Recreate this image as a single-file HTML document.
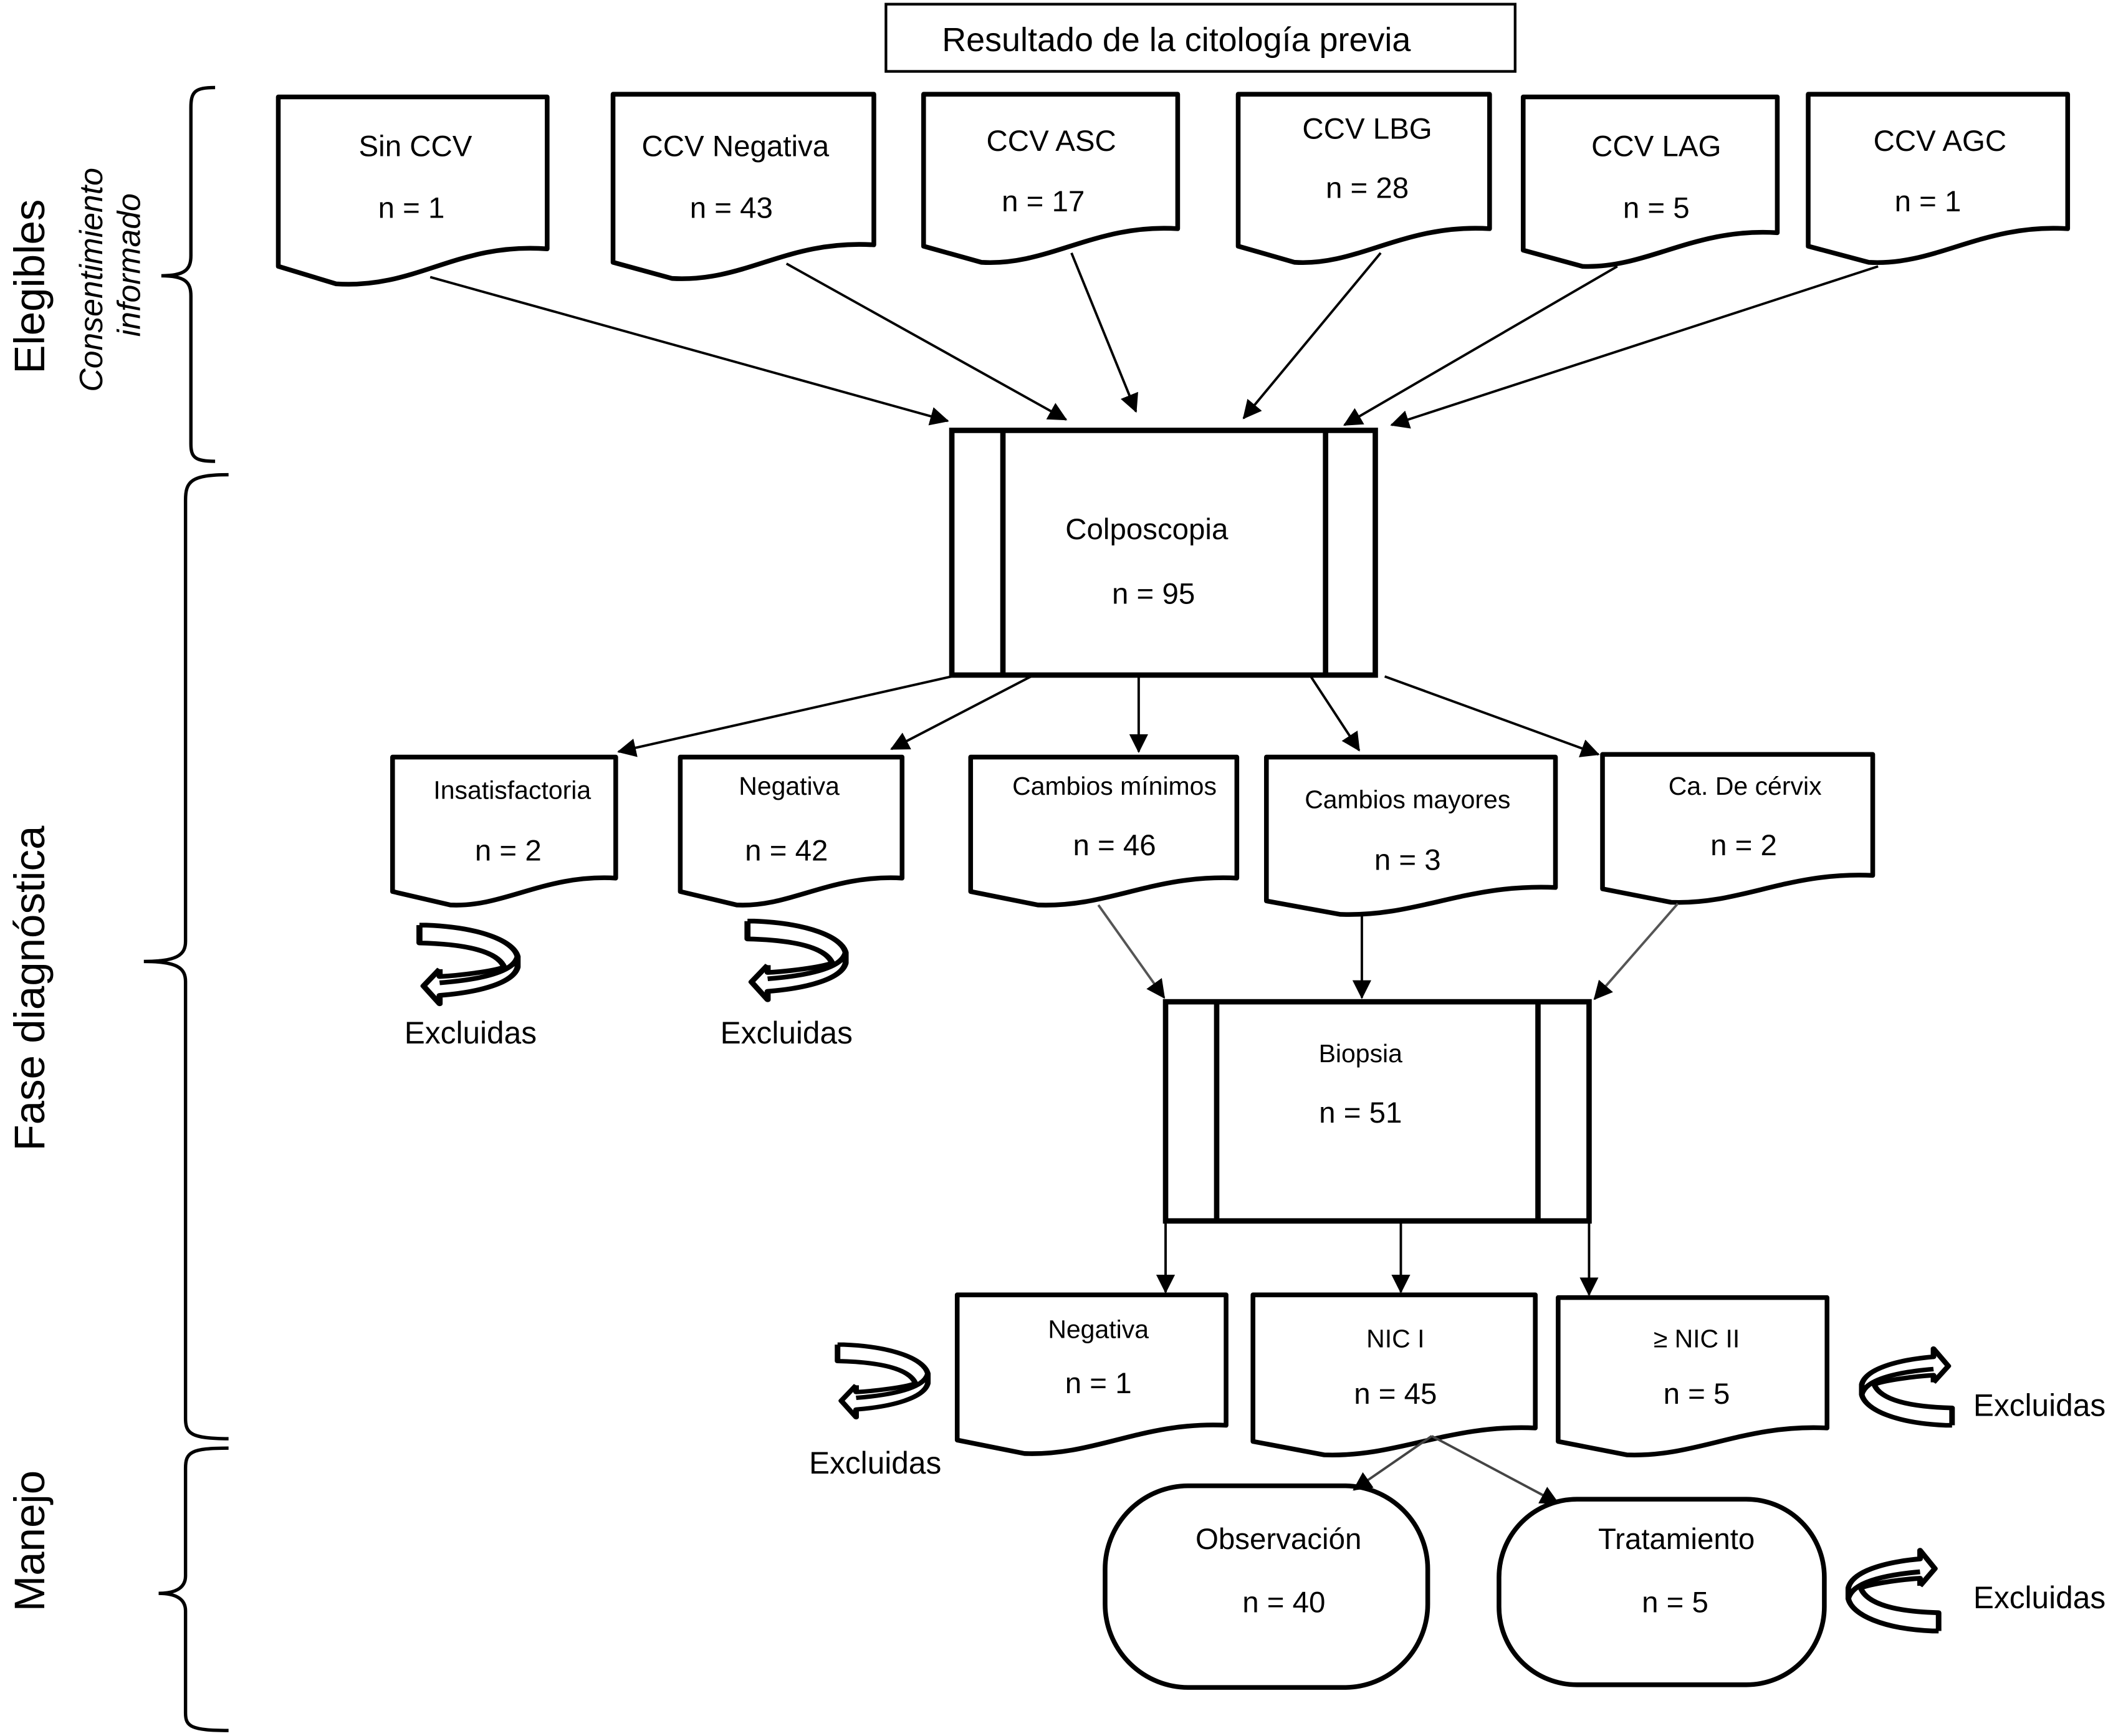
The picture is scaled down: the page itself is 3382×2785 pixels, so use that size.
<!DOCTYPE html>
<html><head><meta charset="utf-8"><style>
html,body{margin:0;padding:0;background:#fff}
svg{display:block}
text{font-family:"Liberation Sans",Arial,sans-serif;fill:#000}
</style></head><body>
<svg width="3382" height="2785" viewBox="0 0 1568 1291" xmlns="http://www.w3.org/2000/svg">
<defs>
<marker id="ahs" markerWidth="14" markerHeight="14" refX="13" refY="7" orient="auto" markerUnits="userSpaceOnUse" viewBox="0 0 14 14">
<path d="M0,0 L14,7 L0,14 Z" fill="#000"/></marker>
<g id="cl" fill="none" stroke="#000" stroke-width="4.5" stroke-linejoin="round">
<path d="M0,0 H5 C45,2 70,15 73,30 C70,45 45,52 15,55 M0,0 V17 C35,18 58,25 63,40"/>
<path d="M15,42 L3,58 L15,75 V67 C45,64 70,55 73,40 V30"/>
<path d="M15,42 V49 C30,48 55,44 63,40"/>
</g>
</defs>
<rect x="659" y="3" width="468" height="50" fill="none" stroke="#000" stroke-width="2"/>
<text x="875" y="38" font-size="25" text-anchor="middle">Resultado de la citología previa</text>

<g fill="#fff" stroke="#000" stroke-width="3.5" stroke-linejoin="round">
<path d="M207,72 H407 V185 C340,180 310,215 250,211 L207,198 Z"/>
<path d="M456,70 H650 V182 C585,178 555,210 500,207 L456,195 Z"/>
<path d="M687,70 H876 V170 C815,166 780,198 730,195 L687,183 Z"/>
<path d="M921,70 H1108 V170 C1045,166 1010,198 963,195 L921,183 Z"/>
<path d="M1133,72 H1322 V173 C1260,169 1225,200 1177,198 L1133,186 Z"/>
<path d="M1345,70 H1538 V170 C1475,166 1440,198 1390,195 L1345,183 Z"/>

<path d="M292,563 H458 V653 C405,650 375,675 335,673 L292,663 Z"/>
<path d="M506,563 H671 V653 C618,650 588,675 548,673 L506,663 Z"/>
<path d="M722,563 H920 V653 C858,650 825,675 772,673 L722,663 Z"/>
<path d="M942,563 H1157 V660 C1090,657 1055,682 997,680 L942,670 Z"/>
<path d="M1192,561 H1393 V651 C1330,648 1295,673 1243,671 L1192,661 Z"/>

<path d="M712,963 H912 V1060 C850,1057 815,1083 762,1081 L712,1071 Z"/>
<path d="M932,963 H1142 V1062 C1078,1059 1040,1084 985,1082 L932,1072 Z"/>
<path d="M1159,965 H1359 V1062 C1297,1059 1262,1084 1210,1082 L1159,1072 Z"/>
</g>

<g fill="none" stroke="#000" stroke-width="4">
<rect x="708" y="320" width="315" height="182"/>
<line x1="746" y1="320" x2="746" y2="502"/>
<line x1="986" y1="320" x2="986" y2="502"/>
<rect x="867" y="745" width="315" height="163"/>
<line x1="905" y1="745" x2="905" y2="908"/>
<line x1="1144" y1="745" x2="1144" y2="908"/>
<rect x="822" y="1105" width="240" height="150" rx="62" ry="62" stroke-width="3.5"/>
<rect x="1115" y="1115" width="242" height="138" rx="58" ry="58" stroke-width="3.5"/>
</g>

<g fill="none" stroke="#000" stroke-width="2.5">
<path d="M160,65 C145,65 142,68 142,80 V190 C142,200 138,205 120,205 C138,205 142,210 142,220 V330 C142,340 145,343 160,343"/>
<path d="M170,353 C142,353 138,358 138,372 V700 C138,710 132,715 107,715 C132,715 138,720 138,730 V1055 C138,1066 142,1070 170,1070"/>
<path d="M170,1077 C142,1077 138,1080 138,1092 V1172 C138,1180 132,1185 118,1185 C132,1185 138,1190 138,1198 V1274 C138,1284 142,1287 170,1287"/>
</g>

<g stroke="#000" stroke-width="1.8" fill="none" marker-end="url(#ahs)">
<line x1="320" y1="206" x2="705" y2="313"/>
<line x1="585" y1="196" x2="793" y2="312"/>
<line x1="797" y1="188" x2="845" y2="306"/>
<line x1="1027" y1="188" x2="925" y2="311"/>
<line x1="1203" y1="198" x2="1000" y2="316"/>
<line x1="1397" y1="198" x2="1035" y2="316"/>
<line x1="708" y1="503" x2="460" y2="559"/>
<line x1="767" y1="503" x2="663" y2="557"/>
<line x1="847" y1="503" x2="847" y2="559"/>
<line x1="975" y1="503" x2="1011" y2="558"/>
<line x1="1030" y1="503" x2="1189" y2="561"/>
<line x1="817" y1="673" x2="866" y2="742" stroke="#555"/>
<line x1="1013" y1="681" x2="1013" y2="742"/>
<line x1="1248" y1="672" x2="1186" y2="743" stroke="#555"/>
<line x1="867" y1="908" x2="867" y2="961"/>
<line x1="1042" y1="908" x2="1042" y2="961"/>
<line x1="1182" y1="908" x2="1182" y2="963"/>
<line x1="1065" y1="1068" x2="1007" y2="1108" stroke="#444"/>
<line x1="1065" y1="1068" x2="1159" y2="1118" stroke="#444"/>
</g>

<use href="#cl" transform="translate(312,688) scale(1,0.78)"/>
<use href="#cl" transform="translate(556,685) scale(1,0.78)"/>
<use href="#cl" transform="translate(623,1000) scale(0.92,0.72)"/>
<use href="#cl" transform="translate(1452,1060) scale(-0.92,-0.76)"/>
<use href="#cl" transform="translate(1442,1213) scale(-0.92,-0.8)"/>

<g font-size="22" text-anchor="middle">
<text x="309" y="116">Sin CCV</text><text x="306" y="162">n = 1</text>
<text x="547" y="116">CCV Negativa</text><text x="544" y="162">n = 43</text>
<text x="782" y="112">CCV ASC</text><text x="776" y="157">n = 17</text>
<text x="1017" y="103">CCV LBG</text><text x="1017" y="147">n = 28</text>
<text x="1232" y="116">CCV LAG</text><text x="1232" y="162">n = 5</text>
<text x="1443" y="112">CCV AGC</text><text x="1434" y="157">n = 1</text>
<text x="853" y="401">Colposcopia</text><text x="858" y="449">n = 95</text>
<text x="1012" y="835">n = 51</text>
<text x="378" y="640">n = 2</text>
<text x="585" y="640">n = 42</text>
<text x="829" y="636">n = 46</text>
<text x="1047" y="647">n = 3</text>
<text x="1297" y="636">n = 2</text>
<text x="817" y="1036">n = 1</text>
<text x="1038" y="1044">n = 45</text>
<text x="1262" y="1044">n = 5</text>
<text x="951" y="1152">Observación</text><text x="955" y="1199">n = 40</text>
<text x="1247" y="1152">Tratamiento</text><text x="1246" y="1199">n = 5</text>
</g>
<g font-size="23" text-anchor="middle">
<text x="350" y="776">Excluidas</text>
<text x="585" y="776">Excluidas</text>
<text x="651" y="1096">Excluidas</text>
<text x="1517" y="1053">Excluidas</text>
<text x="1517" y="1196">Excluidas</text>
</g>
<g font-size="19" text-anchor="middle">
<text x="381" y="594">Insatisfactoria</text>
<text x="587" y="591">Negativa</text>
<text x="829" y="591">Cambios mínimos</text>
<text x="1047" y="601">Cambios mayores</text>
<text x="1298" y="591">Ca. De cérvix</text>
<text x="1012" y="790">Biopsia</text>
<text x="817" y="995">Negativa</text>
<text x="1038" y="1002">NIC I</text>
<text x="1262" y="1002">≥ NIC II</text>
</g>
<g font-size="32" text-anchor="middle">
<text transform="translate(33,213) rotate(-90)">Elegibles</text>
<text transform="translate(33,735) rotate(-90)">Fase diagnóstica</text>
<text transform="translate(33,1146) rotate(-90)">Manejo</text>
</g>
<g font-size="24" font-style="italic" text-anchor="middle">
<text transform="translate(76,208) rotate(-90)">Consentimiento</text>
<text transform="translate(104,197) rotate(-90)">informado</text>
</g>
</svg>
</body></html>
